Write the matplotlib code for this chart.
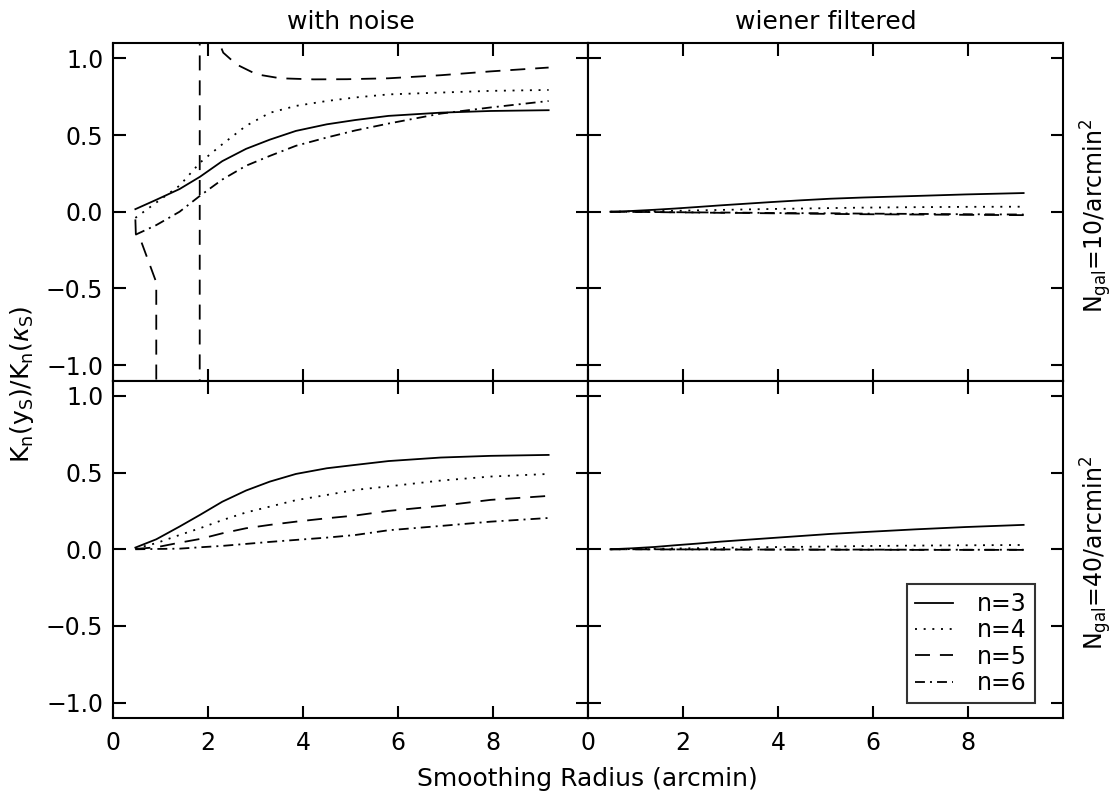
import numpy as np
from matplotlib import pyplot as plt

# smoothing radius grid (arcmin)
radius = [0.47, 0.91, 1.4, 1.83, 2.3, 2.8, 3.3, 3.85, 4.5, 5.1, 5.8, 6.9, 7.95, 9.17]

# with noise, Ngal=10
noise10_n3 = [0.017, 0.078, 0.148, 0.228, 0.33, 0.41, 0.47, 0.527, 0.57, 0.598, 0.625, 0.646, 0.657, 0.662]
noise10_n4 = [-0.04, 0.06, 0.17, 0.32, 0.44, 0.56, 0.645, 0.69, 0.722, 0.745, 0.765, 0.777, 0.788, 0.794]
noise10_n6 = [-0.15, -0.087, 0.0, 0.104, 0.21, 0.30, 0.364, 0.43, 0.484, 0.53, 0.575, 0.64, 0.68, 0.722]
# n=5 blows up (poles near 0.9 and 1.8 arcmin)
radius_n5 = [0.47, 0.48, 0.6, 0.91, 0.92, 1.82, 1.83, 2.25, 2.32, 2.6, 3.02, 3.52, 4.22, 4.92, 5.8, 6.9, 7.95, 9.17]
noise10_n5 = [-0.05, -0.145, -0.2, -0.46, -30.0, -30.0, 30.0, 1.09, 1.037, 0.96, 0.896, 0.87, 0.863, 0.864, 0.87, 0.89, 0.915, 0.94]

# with noise, Ngal=40
noise40_n3 = [0.011, 0.065, 0.148, 0.224, 0.31, 0.383, 0.441, 0.491, 0.528, 0.55, 0.575, 0.598, 0.609, 0.615]
noise40_n4 = [0.005, 0.04, 0.093, 0.137, 0.19, 0.24, 0.278, 0.32, 0.354, 0.387, 0.41, 0.448, 0.474, 0.491]
noise40_n5 = [0.002, 0.013, 0.043, 0.067, 0.104, 0.137, 0.159, 0.18, 0.202, 0.22, 0.25, 0.283, 0.322, 0.348]
noise40_n6 = [0.0, 0.002, 0.004, 0.013, 0.022, 0.035, 0.048, 0.061, 0.076, 0.093, 0.124, 0.152, 0.18, 0.204]

# wiener filtered, Ngal=10
wf10_n3 = [0.0, 0.005, 0.013, 0.021, 0.031, 0.042, 0.052, 0.063, 0.075, 0.085, 0.093, 0.103, 0.113, 0.122]
wf10_n4 = [0.0, 0.002, 0.004, 0.006, 0.009, 0.012, 0.015, 0.018, 0.021, 0.024, 0.027, 0.03, 0.032, 0.033]
wf10_n5 = [0.0, -0.001, -0.002, -0.004, -0.005, -0.007, -0.008, -0.01, -0.012, -0.014, -0.016, -0.018, -0.02, -0.022]
wf10_n6 = [0.0, -0.001, -0.002, -0.003, -0.004, -0.005, -0.006, -0.008, -0.009, -0.01, -0.012, -0.014, -0.016, -0.018]

# wiener filtered, Ngal=40
wf40_n3 = [0.0, 0.006, 0.015, 0.026, 0.037, 0.05, 0.061, 0.073, 0.087, 0.1, 0.112, 0.13, 0.145, 0.159]
wf40_n4 = [0.0, 0.001, 0.003, 0.005, 0.007, 0.009, 0.012, 0.014, 0.016, 0.018, 0.021, 0.024, 0.026, 0.028]
wf40_n5 = [0.0, 0.0, -0.001, -0.001, -0.001, -0.002, -0.002, -0.002, -0.003, -0.003, -0.003, -0.004, -0.004, -0.004]
wf40_n6 = [0.0, 0.0, 0.0, -0.001, -0.001, -0.001, -0.001, -0.002, -0.002, -0.002, -0.002, -0.003, -0.003, -0.003]

labels = ['n=3', 'n=4', 'n=5', 'n=6']
styles = ['-', (0, (1.1, 3.7)), (0, (8.3, 5.5)), (0, (5.5, 2.8, 1.1, 2.8))]
col_titles = ['with noise', 'wiener filtered']
row_labels = [r'N$_{\rm gal}$=10/arcmin$^2$', r'N$_{\rm gal}$=40/arcmin$^2$']

plt.rcParams['font.family'] = ['DejaVu Sans']
plt.rcParams['font.size'] = 18

fig, axes = plt.subplots(2, 2, figsize=(11.17, 7.92), dpi=100)
plt.subplots_adjust(left=0.1012, right=0.9517, top=0.9457, bottom=0.0934, hspace=0, wspace=0)

panels = [
    [[(radius, noise10_n3), (radius, noise10_n4), (radius_n5, noise10_n5), (radius, noise10_n6)],
     [(radius, wf10_n3), (radius, wf10_n4), (radius, wf10_n5), (radius, wf10_n6)]],
    [[(radius, noise40_n3), (radius, noise40_n4), (radius, noise40_n5), (radius, noise40_n6)],
     [(radius, wf40_n3), (radius, wf40_n4), (radius, wf40_n5), (radius, wf40_n6)]],
]

for i in range(2):
    for j in range(2):
        ax = axes[i, j]
        for k, (xs, ys) in enumerate(panels[i][j]):
            ax.plot(xs, ys, color='k', lw=1.3, linestyle=styles[k], label=labels[k])
        ax.set_xlim(0, 10)
        ax.set_ylim(-1.1, 1.1)
        ax.set_xticks([0, 2, 4, 6, 8])
        ax.set_yticks([-1.0, -0.5, 0.0, 0.5, 1.0])
        ax.tick_params(direction='in', length=9, width=1.5, top=True, right=True,
                       labelsize=17)
        ax.tick_params(axis='x', pad=9)
        ax.tick_params(axis='y', pad=7)
        for sp in ax.spines.values():
            sp.set_linewidth(1.5)
        if i == 0:
            ax.tick_params(labelbottom=False)
            ax.set_title(col_titles[j], fontsize=18, pad=10)
        else:
            ax.set_xticklabels(['0', '2', '4', '6', '8'])
        if j == 1:
            ax.tick_params(labelleft=False)
        else:
            ax.set_yticklabels(['\u22121.0', '\u22120.5', '0.0', '0.5', '1.0'])

leg = axes[1, 1].legend(loc='lower right', bbox_to_anchor=(0.941, 0.044), borderaxespad=0,
                        fancybox=False, edgecolor='k', fontsize=17, handlelength=1.6,
                        handletextpad=1.0, labelspacing=0.1, borderpad=0.35)
leg.get_frame().set_linewidth(1.5)

fig.text(0.02, 0.515, r'K$_{\rm n}$(y$_{\rm S}$)/K$_{\rm n}$($\kappa_{\rm S}$)',
         rotation=90, ha='center', va='center', fontsize=18)
fig.text(0.5255, 0.017, 'Smoothing Radius (arcmin)', ha='center', va='center', fontsize=18)
fig.text(0.981, 1 - 216 / 792, row_labels[0], rotation=90, ha='center', va='center', fontsize=17)
fig.text(0.981, 1 - 553 / 792, row_labels[1], rotation=90, ha='center', va='center', fontsize=17)

plt.savefig('out.png', dpi=100)
